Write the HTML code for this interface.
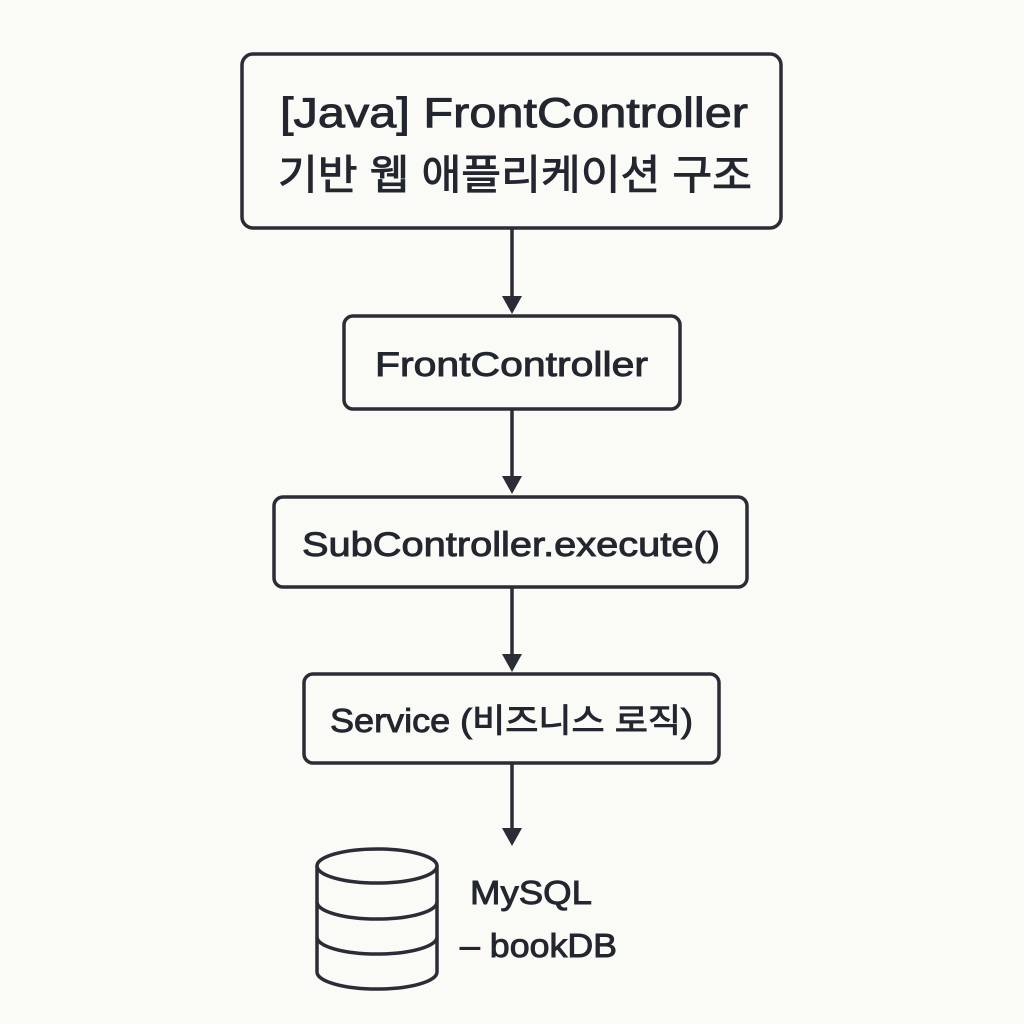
<!DOCTYPE html>
<html><head><meta charset="utf-8"><style>
html,body{margin:0;padding:0;background:#fafaf7;}
svg{display:block}
text{font-family:"Liberation Sans","Noto Sans CJK KR",sans-serif;fill:#23262e;stroke:#23262e;stroke-width:0.9;}
</style></head><body>
<svg width="1024" height="1024" viewBox="0 0 1024 1024">
<rect width="1024" height="1024" fill="#fafaf7"/>
<g fill="none" stroke="#2a2d35" stroke-width="3.5">
<rect x="242" y="54" width="539" height="174" rx="11"/>
<rect x="344" y="316" width="336" height="93" rx="9"/>
<rect x="274" y="497" width="473" height="90" rx="9"/>
<rect x="304" y="674" width="415" height="89" rx="9"/>
<line x1="512" y1="229" x2="512" y2="298"/>
<line x1="512" y1="410" x2="512" y2="478"/>
<line x1="512" y1="588" x2="512" y2="656"/>
<line x1="512" y1="764" x2="512" y2="830"/>
<ellipse cx="377" cy="866" rx="60" ry="17"/>
<path d="M317 866 V972 A60 17 0 0 0 437 972 V866"/>
<path d="M317 902 A60 17 0 0 0 437 902"/>
<path d="M317 937 A60 17 0 0 0 437 937"/>
</g>
<g fill="#2a2d35">
<polygon points="502,296 522,296 512,314"/>
<polygon points="502,476 522,476 512,494"/>
<polygon points="502,654 522,654 512,672"/>
<polygon points="502,828 522,828 512,846"/>
</g>
<text x="280" y="127" font-size="42" textLength="468" lengthAdjust="spacingAndGlyphs">[Java] FrontController</text>
<text x="278" y="189" font-size="41" textLength="474" lengthAdjust="spacingAndGlyphs">기반 웹 애플리케이션 구조</text>
<text x="375" y="376" font-size="34" textLength="273" lengthAdjust="spacingAndGlyphs">FrontController</text>
<text x="302" y="556" font-size="34" textLength="418" lengthAdjust="spacingAndGlyphs">SubController.execute()</text>
<text x="330" y="732" font-size="33" textLength="363" lengthAdjust="spacingAndGlyphs">Service (비즈니스 로직)</text>
<text x="470" y="904" font-size="33" textLength="122" lengthAdjust="spacingAndGlyphs">MySQL</text>
<text x="460" y="957" font-size="33" textLength="157" lengthAdjust="spacingAndGlyphs">– bookDB</text>
</svg>
</body></html>
